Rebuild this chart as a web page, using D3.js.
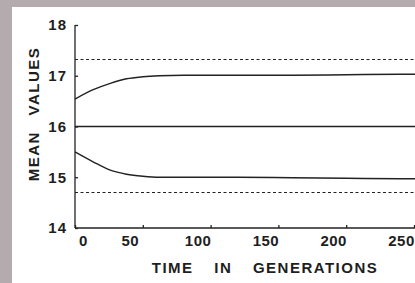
<!DOCTYPE html>
<html>
<head>
<meta charset="utf-8">
<script src="https://cdn.jsdelivr.net/npm/d3@7"></script>
<style>
  body { margin: 0; background: #b4abae; }
  svg { display: block; }
  text { font-family: "Liberation Sans", sans-serif; fill: #1e1e1e; font-weight: bold; }
</style>
</head>
<body>
<div id="chart"></div>
<script>
const generations = [0, 13, 26, 38, 50, 62, 80, 120, 160, 200, 240, 260]
const upperMean = [16.54, 16.72, 16.85, 16.94, 16.98, 17.0, 17.01, 17.01, 17.01, 17.02, 17.03, 17.03]
const middleMean = [16, 16, 16, 16, 16, 16, 16, 16, 16, 16, 16, 16]
const lowerMean = [15.5, 15.31, 15.14, 15.06, 15.02, 15.0, 15.0, 15.0, 14.99, 14.98, 14.97, 14.97]
const upperLimit = 17.32
const lowerLimit = 14.7
const xTicks = [0, 50, 100, 150, 200, 250]
const yTicks = [14, 15, 16, 17, 18]

const width = 415
const height = 283

const svg = d3.select('#chart')
  .append('svg')
    .attr('width', width)
    .attr('height', height)

// paper
svg.append('rect')
  .attr('x', 12)
  .attr('y', 7)
  .attr('width', width - 12)
  .attr('height', height - 7)
  .attr('fill', '#fff')

const x = d3.scaleLinear().domain([0, 250]).range([75, 414])
const y = d3.scaleLinear().domain([14, 18]).range([228, 25])

const xAxis = svg.append('g')
  .attr('transform', `translate(0,${y(14)})`)
  .call(d3.axisBottom(x).tickValues(xTicks).tickFormat(d3.format('d')).tickSize(-3).tickPadding(7))
xAxis.select('.domain').attr('d', `M${x(0)},0H${width}`)
xAxis.selectAll('text')
  .attr('font-size', 15)
  .attr('letter-spacing', 0.5)
  .attr('dx', d => d === 0 ? 8 : -13)

const yAxis = svg.append('g')
  .attr('transform', `translate(${x(0)},0)`)
  .call(d3.axisLeft(y).tickValues(yTicks).tickFormat(d3.format('d')).tickSize(-3).tickPadding(8))
yAxis.select('.domain').attr('d', `M0,${y(18)}V${y(14)}`)
yAxis.selectAll('text').attr('font-size', 15).attr('letter-spacing', 1)

svg.selectAll('.domain, .tick line').attr('stroke', '#222').attr('stroke-width', 1.3)

const line = d3.line()
  .x((d, i) => x(generations[i]))
  .y(d => y(d))
  .curve(d3.curveMonotoneX)

const lines = svg.append('g').attr('fill', 'none').attr('stroke', '#222').attr('stroke-width', 1.4)
;[upperMean, middleMean, lowerMean].forEach(series => {
  lines.append('path').attr('d', line(series))
})

;[upperLimit, lowerLimit].forEach(v => {
  lines.append('line')
    .attr('x1', x(0)).attr('x2', width)
    .attr('y1', y(v)).attr('y2', y(v))
    .attr('stroke-width', 1.2)
    .attr('stroke-dasharray', '3,2.5')
})

svg.append('text')
  .attr('transform', `translate(39,114) rotate(-90)`)
  .attr('text-anchor', 'middle')
  .attr('font-size', 15)
  .attr('letter-spacing', 1.5)
  .attr('word-spacing', 10)
  .text('MEAN VALUES')

svg.append('text')
  .attr('x', 265)
  .attr('y', 273)
  .attr('text-anchor', 'middle')
  .attr('font-size', 15)
  .attr('letter-spacing', 1.5)
  .attr('word-spacing', 15)
  .text('TIME IN GENERATIONS')
</script>
</body>
</html>
